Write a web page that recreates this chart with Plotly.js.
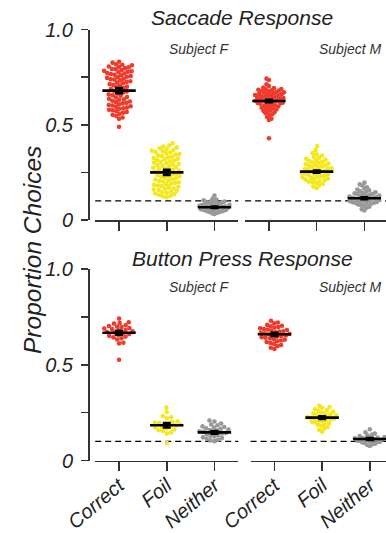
<!DOCTYPE html>
<html>
<head>
<meta charset="utf-8">
<script src="https://cdn.plot.ly/plotly-3.0.1.min.js"></script>
<style>html,body{margin:0;padding:0;background:#fff;}#chart{width:386px;height:533px;}</style>
</head>
<body>
<div id="chart"></div>
<script>
// ---------------- DATA ----------------
const categories = ['Correct', 'Foil', 'Neither'];
const chanceLevel = 0.1;

// Saccade Response, Subject F
const saccadeF_correct = [0.831,0.826,0.817,0.815,0.812,0.806,0.804,0.801,0.797,0.793,0.792,0.787,0.783,0.781,0.778,0.776,0.771,0.769,0.766,0.762,0.760,0.756,0.752,0.750,0.746,0.742,0.739,0.737,0.733,0.728,0.725,0.721,0.718,0.713,0.709,0.706,0.700,0.696,0.692,0.688,0.683,0.677,0.674,0.669,0.664,0.660,0.655,0.652,0.646,0.643,0.637,0.634,0.631,0.626,0.622,0.619,0.615,0.612,0.607,0.604,0.601,0.597,0.594,0.590,0.586,0.584,0.579,0.576,0.571,0.567,0.563,0.558,0.552,0.546,0.538,0.531,0.489];
const saccadeF_foil = [0.403,0.391,0.386,0.381,0.376,0.373,0.368,0.364,0.361,0.357,0.354,0.350,0.346,0.343,0.339,0.336,0.332,0.329,0.325,0.322,0.318,0.315,0.312,0.308,0.305,0.301,0.298,0.294,0.291,0.288,0.284,0.281,0.277,0.274,0.270,0.267,0.263,0.260,0.257,0.253,0.249,0.246,0.243,0.239,0.236,0.232,0.229,0.226,0.222,0.219,0.215,0.212,0.208,0.205,0.202,0.198,0.195,0.191,0.188,0.185,0.181,0.178,0.174,0.171,0.167,0.164,0.160,0.157,0.153,0.150,0.146,0.143,0.139,0.135,0.131,0.127,0.123,0.119];
const saccadeF_neither = [0.128,0.112,0.108,0.104,0.101,0.099,0.097,0.095,0.093,0.091,0.089,0.087,0.085,0.084,0.082,0.080,0.079,0.077,0.075,0.074,0.072,0.071,0.069,0.068,0.066,0.065,0.063,0.062,0.060,0.059,0.057,0.056,0.054,0.053,0.051,0.050,0.048,0.046,0.045,0.043,0.041,0.039,0.037,0.034,0.031];
const saccadeF_means = [0.679, 0.250, 0.067];
const saccadeF_sem = [0.014, 0.013, 0.004];

// Saccade Response, Subject M
const saccadeM_correct = [0.742,0.735,0.712,0.703,0.695,0.692,0.688,0.686,0.684,0.681,0.679,0.677,0.675,0.672,0.670,0.668,0.666,0.664,0.662,0.660,0.658,0.656,0.654,0.652,0.650,0.648,0.646,0.644,0.642,0.640,0.638,0.636,0.634,0.632,0.630,0.628,0.626,0.624,0.622,0.620,0.618,0.616,0.614,0.612,0.610,0.607,0.604,0.602,0.599,0.596,0.593,0.590,0.587,0.584,0.580,0.577,0.573,0.569,0.565,0.560,0.555,0.549,0.541,0.532,0.525,0.429];
const saccadeM_foil = [0.388,0.367,0.352,0.345,0.338,0.331,0.326,0.321,0.317,0.313,0.309,0.305,0.302,0.299,0.296,0.293,0.290,0.287,0.284,0.281,0.278,0.275,0.272,0.270,0.267,0.264,0.261,0.258,0.256,0.253,0.250,0.247,0.244,0.242,0.239,0.236,0.233,0.230,0.227,0.224,0.221,0.218,0.215,0.212,0.209,0.206,0.202,0.198,0.194,0.189,0.183,0.176,0.168];
const saccadeM_neither = [0.196,0.187,0.181,0.172,0.165,0.160,0.156,0.152,0.149,0.146,0.143,0.140,0.138,0.136,0.133,0.131,0.129,0.127,0.125,0.123,0.121,0.119,0.117,0.115,0.113,0.111,0.109,0.107,0.105,0.103,0.101,0.099,0.097,0.095,0.093,0.091,0.089,0.087,0.085,0.082,0.079,0.075,0.070,0.064,0.057,0.050];
const saccadeM_means = [0.625, 0.254, 0.114];
const saccadeM_sem = [0.006, 0.006, 0.005];

// Button Press Response, Subject F
const buttonF_correct = [0.741,0.722,0.718,0.715,0.706,0.702,0.699,0.697,0.692,0.689,0.686,0.681,0.678,0.675,0.671,0.668,0.664,0.660,0.655,0.651,0.647,0.643,0.638,0.632,0.615,0.611,0.526];
const buttonF_foil = [0.276,0.253,0.232,0.226,0.221,0.205,0.201,0.198,0.195,0.190,0.187,0.183,0.180,0.176,0.172,0.168,0.162,0.158,0.154,0.147,0.141,0.091];
const buttonF_neither = [0.209,0.204,0.193,0.188,0.184,0.178,0.175,0.172,0.168,0.165,0.162,0.159,0.156,0.153,0.150,0.147,0.144,0.141,0.137,0.133,0.129,0.125,0.121,0.117,0.113,0.109,0.105,0.101];
const buttonF_means = [0.667, 0.184, 0.147];
const buttonF_sem = [0.010, 0.012, 0.007];

// Button Press Response, Subject M
const buttonM_correct = [0.730,0.721,0.717,0.708,0.704,0.701,0.697,0.694,0.690,0.687,0.684,0.681,0.678,0.675,0.673,0.670,0.667,0.664,0.661,0.659,0.656,0.653,0.650,0.647,0.644,0.641,0.638,0.634,0.631,0.627,0.623,0.619,0.614,0.609,0.603,0.597,0.589,0.582];
const buttonM_foil = [0.286,0.279,0.275,0.268,0.264,0.259,0.255,0.251,0.248,0.245,0.242,0.239,0.236,0.233,0.231,0.228,0.226,0.223,0.221,0.218,0.215,0.212,0.209,0.206,0.203,0.199,0.195,0.191,0.186,0.181,0.175,0.168,0.160,0.150];
const buttonM_neither = [0.163,0.147,0.141,0.135,0.131,0.128,0.125,0.122,0.120,0.118,0.116,0.114,0.112,0.110,0.108,0.106,0.104,0.102,0.100,0.098,0.096,0.094,0.091,0.088,0.085,0.081,0.076];
const buttonM_means = [0.659, 0.224, 0.112];
const buttonM_sem = [0.008, 0.007, 0.005];

// ---------------- STYLE / LAYOUT ----------------
const W = 386, H = 533;
const px = v => v / W;
const py = v => 1 - v / H;
const FONT = 'Liberation Sans, Arial, Helvetica, sans-serif';
const colors = ['#ee3b2b', '#f3e81c', '#999999'];
const PX_PER_Y = 190.5, PX_PER_X = 47.7;

// beeswarm offsets (pixel space), capped half-width
function swarm(vals, d, cap) {
  const pts = vals.map((v, i) => ({ y: v * PX_PER_Y, x: 0, i }));
  const order = pts.slice().sort((a, b) => a.y - b.y);
  const placed = [];
  let flip = 1;
  for (const p of order) {
    const forb = [];
    for (const q of placed) {
      const dy = p.y - q.y;
      if (Math.abs(dy) < d) {
        const w = Math.sqrt(d * d - dy * dy);
        forb.push([q.x - w, q.x + w]);
      }
    }
    const cands = [0];
    forb.forEach(f => cands.push(f[0], f[1]));
    cands.sort((a, b) => (Math.abs(a) - Math.abs(b)) || (flip * (b - a)));
    for (const c of cands) {
      if (forb.every(f => c <= f[0] + 1e-9 || c >= f[1] - 1e-9)) { p.x = c; break; }
    }
    flip = -flip;
    placed.push(p);
  }
  const m = Math.max(0.0001, ...pts.map(p => Math.abs(p.x)));
  const s = m > cap ? cap / m : 1;
  return pts.map(p => p.x * s / PX_PER_X);
}

const panels = [
  { xa: 'x',  ya: 'y',  groups: [saccadeF_correct, saccadeF_foil, saccadeF_neither], means: saccadeF_means, sem: saccadeF_sem },
  { xa: 'x2', ya: 'y2', groups: [saccadeM_correct, saccadeM_foil, saccadeM_neither], means: saccadeM_means, sem: saccadeM_sem },
  { xa: 'x3', ya: 'y3', groups: [buttonF_correct, buttonF_foil, buttonF_neither], means: buttonF_means, sem: buttonF_sem },
  { xa: 'x4', ya: 'y4', groups: [buttonM_correct, buttonM_foil, buttonM_neither], means: buttonM_means, sem: buttonM_sem },
];

const traces = [];
panels.forEach(p => {
  p.groups.forEach((vals, ci) => {
    const offs = swarm(vals, 4.4, 15);
    traces.push({
      type: 'scatter', mode: 'markers', xaxis: p.xa, yaxis: p.ya,
      x: vals.map((v, k) => ci + offs[k]), y: vals,
      marker: { size: 4.6, color: colors[ci], line: { width: 0 } },
      hoverinfo: 'skip', showlegend: false, cliponaxis: false
    });
  });
  traces.push({
    type: 'scatter', mode: 'markers', xaxis: p.xa, yaxis: p.ya,
    x: [0, 1, 2], y: p.means,
    marker: { size: 1, color: '#000' },
    error_x: { type: 'constant', value: 0.35, width: 0, thickness: 2.6, color: '#000' },
    error_y: { type: 'data', array: p.sem, width: 4, thickness: 2.6, color: '#000' },
    hoverinfo: 'skip', showlegend: false, cliponaxis: false
  });
});

const tickFont = { family: FONT, size: 20, color: '#222', style: 'italic' };
function xAxis(domain, range, anchor, labels) {
  return {
    domain, range, anchor, showline: true, linecolor: '#333', linewidth: 1.6,
    ticks: 'outside', ticklen: 9, tickwidth: 1.6, tickcolor: '#333',
    tickvals: [0, 1, 2], ticktext: categories, showticklabels: labels,
    tickangle: -40, tickfont: tickFont, ticklabelstandoff: -5,
    showgrid: false, zeroline: false, fixedrange: true
  };
}
function yAxisMain(domain) {
  return {
    domain, range: [0, 1], anchor: 'free', position: px(88), showline: true,
    linecolor: '#333', linewidth: 1.6, ticks: 'outside', ticklen: 7, tickwidth: 1.6, tickcolor: '#333',
    tickvals: [0, 0.25, 0.5, 0.75, 1], ticktext: ['0', '', '0.5', '', '1.0'],
    tickfont: tickFont, ticklabelstandoff: 4, showgrid: false, zeroline: false, fixedrange: true
  };
}
function yAxisHidden(domain, anchor) {
  return { domain, range: [0, 1], anchor, visible: false, fixedrange: true };
}

const topDom = [py(220), py(29.5)];
const botDom = [py(460.5), py(269)];

const layout = {
  width: W, height: H, margin: { l: 0, r: 0, t: 0, b: 0 },
  paper_bgcolor: '#fff', plot_bgcolor: 'rgba(0,0,0,0)', showlegend: false,
  font: { family: FONT, color: '#222' },
  xaxis: xAxis([px(95.2), px(238.3)], [-0.5, 2.5], 'y', false),
  yaxis: yAxisMain(topDom),
  xaxis2: xAxis([px(245.1), 1], [-0.5, -0.5 + (W - 245.1) / PX_PER_X], 'y2', false),
  yaxis2: yAxisHidden(topDom, 'x2'),
  xaxis3: xAxis([px(95.2), px(238.3)], [-0.5, 2.5], 'y3', true),
  yaxis3: yAxisMain(botDom),
  xaxis4: xAxis([px(250.6), 1], [-0.5, -0.5 + (W - 250.6) / PX_PER_X], 'y4', true),
  yaxis4: yAxisHidden(botDom, 'x4'),
  shapes: ['', '2', '3', '4'].map(s => ({
    type: 'line', xref: 'x' + s + ' domain', yref: 'y' + s, x0: 0, x1: 1, y0: chanceLevel, y1: chanceLevel,
    line: { color: '#000', width: 1.3, dash: '6px,4px' }, layer: 'below'
  })),
  annotations: [
    { text: 'Saccade Response', x: px(242), y: py(18), xref: 'paper', yref: 'paper', xanchor: 'center', yanchor: 'middle', showarrow: false,
      font: { family: FONT, size: 21, color: '#222', style: 'italic' } },
    { text: 'Button Press Response', x: px(242.5), y: py(259), xref: 'paper', yref: 'paper', xanchor: 'center', yanchor: 'middle', showarrow: false,
      font: { family: FONT, size: 21, color: '#222', style: 'italic' } },
    { text: 'Subject F', x: px(232), y: py(49), xref: 'paper', yref: 'paper', xanchor: 'right', yanchor: 'middle', showarrow: false,
      font: { family: FONT, size: 14, color: '#333', style: 'italic' } },
    { text: 'Subject M', x: px(384), y: py(49), xref: 'paper', yref: 'paper', xanchor: 'right', yanchor: 'middle', showarrow: false,
      font: { family: FONT, size: 14, color: '#333', style: 'italic' } },
    { text: 'Subject F', x: px(232), y: py(287), xref: 'paper', yref: 'paper', xanchor: 'right', yanchor: 'middle', showarrow: false,
      font: { family: FONT, size: 14, color: '#333', style: 'italic' } },
    { text: 'Subject M', x: px(384), y: py(287), xref: 'paper', yref: 'paper', xanchor: 'right', yanchor: 'middle', showarrow: false,
      font: { family: FONT, size: 14, color: '#333', style: 'italic' } },
    { text: 'Proportion Choices', x: px(32), y: py(250), xref: 'paper', yref: 'paper', xanchor: 'center', yanchor: 'middle', showarrow: false,
      textangle: -90, font: { family: FONT, size: 24.5, color: '#222', style: 'italic' } }
  ]
};

Plotly.newPlot('chart', traces, layout, { staticPlot: true, displayModeBar: false });
</script>
</body>
</html>
